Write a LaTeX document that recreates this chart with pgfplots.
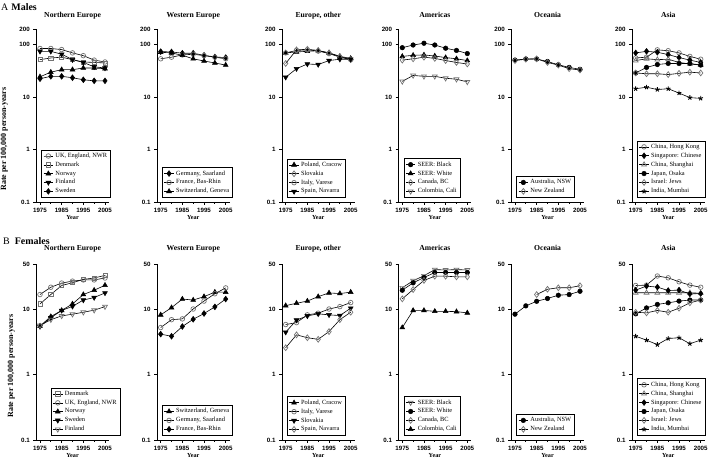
\documentclass[border=0pt]{standalone}
\usepackage{fontspec}
\setmainfont{Liberation Serif}
\setsansfont{Liberation Sans}
\usepackage{pgfplots}
\pgfplotsset{compat=1.18}
\usetikzlibrary{plotmarks}

\pgfplotsset{
 ser/.style={black, line width=0.6bp},
 fc/.style={ser, mark=*, mark size=2.3bp, mark options={solid, fill=black, line width=0.5bp}},
 oc/.style={ser, mark=o, mark size=2.3bp, mark options={solid, draw=black!55, line width=0.7bp}},
 os/.style={ser, mark=square, mark size=2.1bp, mark options={solid, draw=black!55, line width=0.7bp}},
 ft/.style={ser, mark=triangle*, mark size=2.8bp, mark options={solid, fill=black, line width=0.5bp}},
 ot/.style={ser, mark=triangle, mark size=2.8bp, mark options={solid, draw=black!55, line width=0.7bp}},
 fv/.style={ser, mark=triangle*, mark size=2.8bp, mark options={solid, fill=black, line width=0.5bp, rotate=180}},
 ov/.style={ser, mark=triangle, mark size=2.8bp, mark options={solid, draw=black!55, line width=0.7bp, rotate=180}},
 fd/.style={ser, mark=diamond*, mark size=2.9bp, mark options={solid, fill=black, line width=0.5bp}},
 od/.style={ser, mark=diamond, mark size=2.9bp, mark options={solid, draw=black!55, line width=0.7bp}},
 fs/.style={ser, mark=star, mark size=2.4bp, mark options={solid, line width=0.9bp}},
 mypanel/.style={scale only axis, width=72.6bp, xmin=1973.3, xmax=2006.8,
   axis x line*=bottom, axis y line*=left, axis line style={line width=0.8bp},
   tick align=outside, major tick length=3bp, minor tick length=2bp,
   every tick/.style={black, line width=0.8bp},
   xtick={1975,1985,1995,2005}, xticklabels={1975,1985,1995,2005}, minor xtick={1980,1990,2000},
   tick label style={font=\fontsize{6.2}{6.2}\selectfont\sffamily\bfseries},
   title style={font=\fontsize{7.7}{8}\selectfont\bfseries, at={(axis description cs:0.5,1)}, anchor=base, inner sep=0pt},
   xlabel={Year}, xlabel style={font=\fontsize{6.2}{7}\selectfont\bfseries, at={(axis description cs:0.5,0)}, anchor=base, inner sep=0pt},
   legend style={draw=black, line width=0.7bp, font=\fontsize{6.4}{7.5}\selectfont, at={(axis description cs:0.07,0.025)}, anchor=south west, inner xsep=1.5bp, inner ysep=1bp, row sep=-1bp, cells={anchor=west}},
   legend image code/.code={\draw[mark repeat=2,mark phase=2] plot coordinates {(0cm,0cm) (0.17cm,0cm) (0.34cm,0cm)};},
   clip=false,
 },
 mytop/.style={mypanel, height=173bp, ymin=0.1, ymax=200, ytick={0.1,1,10,100,200}, yticklabels={0.1,1,10,100,200}, title style={yshift=5.7bp}, xlabel style={yshift=-18bp}},
 mybot/.style={mypanel, height=176bp, ymin=0.1, ymax=50, ytick={0.1,1,10,50}, yticklabels={0.1,1,10,50}, title style={yshift=7.4bp}, xlabel style={yshift=-17bp}},
}

\begin{document}
\begin{tikzpicture}
\path[use as bounding box] (0,0) rectangle (709bp,459bp);

\node[anchor=west, inner sep=0pt, font=\fontsize{10}{10}\selectfont] at (1bp,452bp) {A\hspace{3bp}\textbf{Males}};
\node[anchor=west, inner sep=0pt, font=\fontsize{10}{10}\selectfont] at (3bp,218bp) {B\hspace{5bp}\textbf{Females}};

%% ---------------- TOP ROW (Males) ----------------
\begin{semilogyaxis}[mytop, at={(36.3bp,257bp)}, title={Northern Europe},
  ylabel={Rate per 100,000 person-years},
  ylabel style={at={(axis description cs:-0.44,0.364)}, anchor=center, font=\fontsize{8}{8}\selectfont\bfseries}]
\addplot[oc] coordinates {(1975,85)(1980,85)(1985,81)(1990,70)(1995,62)(2000,51)(2005,47)};
\addlegendentry{UK, England, NWR}
\addplot[os] coordinates {(1975,52)(1980,56)(1985,58)(1990,52)(1995,47)(2000,46)(2005,45)};
\addlegendentry{Denmark}
\addplot[ft] coordinates {(1975,24.5)(1980,30)(1985,33.5)(1990,33.5)(1995,36)(2000,36)(2005,35)};
\addlegendentry{Norway}
\addplot[fv] coordinates {(1975,75)(1980,75)(1985,66)(1990,52)(1995,46)(2000,38)(2005,36)};
\addlegendentry{Finland}
\addplot[fd] coordinates {(1975,22.5)(1980,25)(1985,25)(1990,23.5)(1995,21.5)(2000,20.5)(2005,20.5)};
\addlegendentry{Sweden}
\end{semilogyaxis}

\begin{semilogyaxis}[mytop, at={(157bp,257bp)}, title={Western Europe}]
\addplot[fd] coordinates {(1975,74)(1980,73)(1985,69)(1990,69)(1995,63)(2000,58.5)(2005,57)};
\addlegendentry{Germany, Saarland}
\addplot[oc] coordinates {(1975,54)(1980,58)(1985,64)(1990,66)(1995,62)(2000,58)(2005,54)};
\addlegendentry{France, Bas-Rhin}
\addplot[ft] coordinates {(1975,72)(1980,70)(1985,63)(1990,54)(1995,49)(2000,45)(2005,41)};
\addlegendentry{Switzerland, Geneva}
\end{semilogyaxis}

\begin{semilogyaxis}[mytop, at={(282bp,257bp)}, title={Europe, other}]
\addplot[ft] coordinates {(1975,70)(1980,73)(1985,75)(1990,77)(1995,70)(2000,60)(2005,55)};
\addlegendentry{Poland, Cracow}
\addplot[od] coordinates {(1975,44)(1980,80)(1985,82)(1990,78)(1995,70)(2000,60)(2005,52)};
\addlegendentry{Slovakia}
\addplot[oc] coordinates {(1975,70)(1980,78)(1985,80)(1990,76)(1995,68)(2000,58)(2005,52)};
\addlegendentry{Italy, Varese}
\addplot[fv] coordinates {(1975,24)(1980,35)(1985,43)(1990,42)(1995,50)(2000,53)(2005,53)};
\addlegendentry{Spain, Navarra}
\end{semilogyaxis}

\begin{semilogyaxis}[mytop, at={(398.6bp,257bp)}, title={Americas}]
\addplot[fc] coordinates {(1975,88)(1980,99)(1985,107)(1990,99)(1995,86)(2000,78)(2005,68)};
\addlegendentry{SEER: Black}
\addplot[ft] coordinates {(1975,60)(1980,63)(1985,64)(1990,61)(1995,57)(2000,54)(2005,50)};
\addlegendentry{SEER: White}
\addplot[od] coordinates {(1975,51)(1980,54)(1985,58)(1990,55)(1995,50)(2000,46)(2005,43)};
\addlegendentry{Canada, BC}
\addplot[ov] coordinates {(1975,20)(1980,26)(1985,25)(1990,25)(1995,23)(2000,22)(2005,19.6)};
\addlegendentry{Colombia, Cali}
\end{semilogyaxis}

\begin{semilogyaxis}[mytop, at={(511.3bp,257bp)}, title={Oceania}]
\addplot[fc] coordinates {(1975,51)(1980,53.5)(1985,53.5)(1990,48)(1995,41.5)(2000,37)(2005,34)};
\addlegendentry{Australia, NSW}
\addplot[od] coordinates {(1975,50)(1980,53)(1985,54)(1990,46)(1995,41)(2000,35)(2005,33)};
\addlegendentry{New Zealand}
\end{semilogyaxis}

\begin{semilogyaxis}[mytop, at={(632bp,257bp)}, title={Asia}]
\addplot[oc] coordinates {(1975,56)(1980,58)(1985,80)(1990,77)(1995,70)(2000,60)(2005,53)};
\addlegendentry{China, Hong Kong}
\addplot[fd] coordinates {(1975,70)(1980,75)(1985,72)(1990,65)(1995,57)(2000,51)(2005,46)};
\addlegendentry{Singapore: Chinese}
\addplot[ot] coordinates {(1975,50)(1980,54)(1985,52)(1990,53)(1995,46)(2000,43)(2005,41)};
\addlegendentry{China, Shanghai}
\addplot[fc] coordinates {(1975,29)(1980,37)(1985,42)(1990,44)(1995,44)(2000,44)(2005,41)};
\addlegendentry{Japan, Osaka}
\addplot[od] coordinates {(1975,29)(1980,28)(1985,28)(1990,27)(1995,28.5)(2000,30)(2005,29)};
\addlegendentry{Israel: Jews}
\addplot[fs] coordinates {(1975,14.5)(1980,15.5)(1985,14)(1990,14.5)(1995,12)(2000,9.8)(2005,9.5)};
\addlegendentry{India, Mumbai}
\end{semilogyaxis}

%% ---------------- BOTTOM ROW (Females) ----------------
\begin{semilogyaxis}[mybot, at={(36.3bp,19bp)}, title={Northern Europe},
  ylabel={Rate per 100,000 person-years},
  ylabel style={at={(axis description cs:-0.345,0.42)}, anchor=center, font=\fontsize{8}{8}\selectfont\bfseries},
  legend style={at={(axis description cs:0.2,0.025)}}]
\addplot[os] coordinates {(1975,12.2)(1980,17)(1985,23.4)(1990,25.8)(1995,29)(2000,30.5)(2005,33.5)};
\addlegendentry{Denmark}
\addplot[oc] coordinates {(1975,17)(1980,22)(1985,25.5)(1990,27.3)(1995,28.5)(2000,28.5)(2005,30.5)};
\addlegendentry{UK, England, NWR}
\addplot[ft] coordinates {(1975,5.6)(1980,7.8)(1985,9.7)(1990,12.2)(1995,17)(2000,19.8)(2005,23.6)};
\addlegendentry{Norway}
\addplot[fv] coordinates {(1975,5.5)(1980,7.5)(1985,9.7)(1990,11.2)(1995,14)(2000,15.3)(2005,18)};
\addlegendentry{Sweden}
\addplot[ov] coordinates {(1975,5.7)(1980,7.0)(1985,8.0)(1990,8.5)(1995,9.1)(2000,9.8)(2005,11.1)};
\addlegendentry{Finland}
\end{semilogyaxis}

\begin{semilogyaxis}[mybot, at={(157bp,19bp)}, title={Western Europe}]
\addplot[ft] coordinates {(1975,8.3)(1980,10.7)(1985,14.5)(1990,14)(1995,15.8)(2000,18.5)(2005,18.5)};
\addlegendentry{Switzerland, Geneva}
\addplot[oc] coordinates {(1975,5.3)(1980,7.0)(1985,7.2)(1990,10.2)(1995,13.5)(2000,17.5)(2005,21.5)};
\addlegendentry{Germany, Saarland}
\addplot[fd] coordinates {(1975,4.2)(1980,3.9)(1985,5.5)(1990,7.1)(1995,8.7)(2000,11)(2005,14.5)};
\addlegendentry{France, Bas-Rhin}
\end{semilogyaxis}

\begin{semilogyaxis}[mybot, at={(282bp,19bp)}, title={Europe, other}]
\addplot[ft] coordinates {(1975,11.5)(1980,12.5)(1985,13.5)(1990,15.8)(1995,18)(2000,17.6)(2005,18.5)};
\addlegendentry{Poland, Cracow}
\addplot[oc] coordinates {(1975,5.9)(1980,6.3)(1985,8.3)(1990,8.8)(1995,10.2)(2000,11.1)(2005,12.8)};
\addlegendentry{Italy, Varese}
\addplot[fv] coordinates {(1975,4.5)(1980,6.9)(1985,8.0)(1990,8.6)(1995,8.3)(2000,8.1)(2005,10.5)};
\addlegendentry{Slovakia}
\addplot[od] coordinates {(1975,2.6)(1980,4.1)(1985,3.7)(1990,3.5)(1995,4.6)(2000,7.0)(2005,9.1)};
\addlegendentry{Spain, Navarra}
\end{semilogyaxis}

\begin{semilogyaxis}[mybot, at={(398.6bp,19bp)}, title={Americas}]
\addplot[ov] coordinates {(1975,21.6)(1980,27.7)(1985,33)(1990,41)(1995,40.5)(2000,41)(2005,40.5)};
\addlegendentry{SEER: Black}
\addplot[fc] coordinates {(1975,19.8)(1980,25.7)(1985,31)(1990,37)(1995,37)(2000,37)(2005,37)};
\addlegendentry{SEER: White}
\addplot[od] coordinates {(1975,14.6)(1980,20.3)(1985,28)(1990,32.5)(1995,32.5)(2000,31.8)(2005,31.8)};
\addlegendentry{Canada, BC}
\addplot[ft] coordinates {(1975,5.3)(1980,9.7)(1985,9.7)(1990,9.4)(1995,9.4)(2000,9.3)(2005,8.9)};
\addlegendentry{Colombia, Cali}
\end{semilogyaxis}

\begin{semilogyaxis}[mybot, at={(511.3bp,19bp)}, title={Oceania}]
\addplot[fc] coordinates {(1975,8.5)(1980,11.4)(1985,13.4)(1990,14.8)(1995,16.6)(2000,17)(2005,19.1)};
\addlegendentry{Australia, NSW}
\addplot[od] coordinates {(1985,17)(1990,20.5)(1995,21.6)(2000,21.6)(2005,23.2)};
\addlegendentry{New Zealand}
\end{semilogyaxis}

\begin{semilogyaxis}[mybot, at={(632bp,19bp)}, title={Asia}]
\addplot[oc] coordinates {(1975,23.4)(1980,23.7)(1985,32.7)(1990,30.7)(1995,26.7)(2000,23.7)(2005,22)};
\addlegendentry{China, Hong Kong}
\addplot[ot] coordinates {(1975,18.1)(1980,18.1)(1985,18.1)(1990,18.1)(1995,18.1)(2000,18.1)(2005,17.8)};
\addlegendentry{China, Shanghai}
\addplot[fd] coordinates {(1975,19.9)(1980,22.9)(1985,22.1)(1990,19.6)(1995,19.9)(2000,17.4)(2005,17.6)};
\addlegendentry{Singapore: Chinese}
\addplot[fc] coordinates {(1975,8.6)(1980,10.6)(1985,12.0)(1990,12.7)(1995,13.5)(2000,14)(2005,14)};
\addlegendentry{Japan, Osaka}
\addplot[od] coordinates {(1975,9.1)(1980,8.9)(1985,9.7)(1990,9.1)(1995,10.5)(2000,12.7)(2005,14)};
\addlegendentry{Israel: Jews}
\addplot[fs] coordinates {(1975,3.9)(1980,3.4)(1985,2.9)(1990,3.6)(1995,3.7)(2000,3.0)(2005,3.4)};
\addlegendentry{India, Mumbai}
\end{semilogyaxis}
\end{tikzpicture}
\end{document}
